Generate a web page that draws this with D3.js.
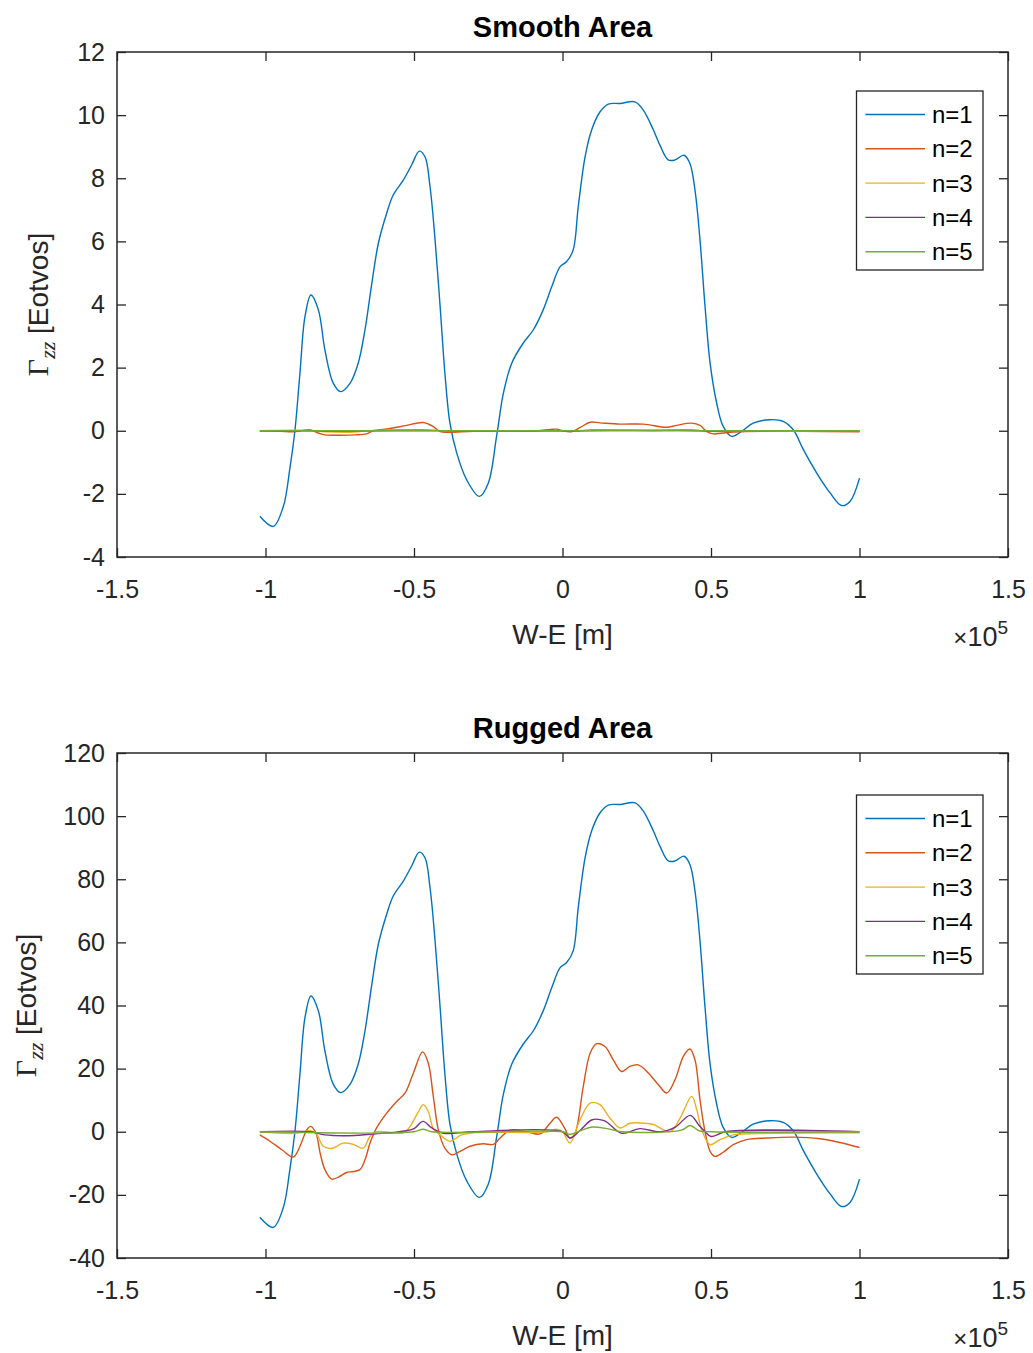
<!DOCTYPE html>
<html>
<head>
<meta charset="utf-8">
<script src="https://cdn.jsdelivr.net/npm/d3@7"></script>
<style>
  body { margin: 0; background: #fff; }
  text { font-family: "Liberation Sans", Arial, Helvetica, sans-serif; }
</style>
</head>
<body>
<div id="chart"></div>
<script>
// Gravity gradient Gzz along a W-E profile, smooth vs rugged terrain.
// x values are in units of 10^5 m (axis shows the x10^5 multiplier).

var colors = ["#0072BD", "#D95319", "#EDB120", "#7E2F8E", "#77AC30"];
var legendNames = ["n=1", "n=2", "n=3", "n=4", "n=5"];
var xTicks = [-1.5, -1, -0.5, 0, 0.5, 1, 1.5];
var smoothTicks = [-4, -2, 0, 2, 4, 6, 8, 10, 12];
var ruggedTicks = [-40, -20, 0, 20, 40, 60, 80, 100, 120];

// n=1 (same sampling in both panels)
var xN1 = [-1.019, -0.974, -0.94, -0.918, -0.901, -0.884, -0.867, -0.847, -0.822, -0.8,
           -0.772, -0.747, -0.715, -0.688, -0.665, -0.642, -0.62, -0.592, -0.57, -0.536,
           -0.508, -0.482, -0.463, -0.446, -0.429, -0.412, -0.396, -0.379, -0.356, -0.323,
           -0.28, -0.25, -0.222, -0.199, -0.171, -0.132, -0.098, -0.065, -0.036, -0.008,
           0.014, 0.036, 0.053, 0.076, 0.098, 0.126, 0.154, 0.194, 0.244, 0.272,
           0.306, 0.328, 0.356, 0.379, 0.409, 0.429, 0.446, 0.463, 0.48, 0.497,
           0.519, 0.541, 0.57, 0.603, 0.642, 0.699, 0.743, 0.777, 0.811, 0.856,
           0.901, 0.94, 0.968, 1.0];
var smoothN1 = [-2.71, -3.03, -2.4, -1.2, 0, 1.83, 3.62, 4.3, 3.83, 2.56,
                1.51, 1.24, 1.51, 2.14, 3.2, 4.67, 5.94, 6.89, 7.47, 7.94,
                8.42, 8.86, 8.68, 7.73, 6.04, 3.93, 1.83, 0.24, -0.71, -1.55,
                -2.08, -1.66, -0.18, 1.19, 2.14, 2.78, 3.2, 3.83, 4.57, 5.2,
                5.36, 5.73, 7.1, 8.68, 9.53, 10.1, 10.35, 10.37, 10.42, 10.16,
                9.53, 9.05, 8.58, 8.58, 8.73, 8.47, 7.63, 6.04, 3.93, 2.14,
                0.88, 0.14, -0.18, -0.02, 0.24, 0.35, 0.30, 0.03, -0.6, -1.34,
                -1.97, -2.37, -2.24, -1.5];
var ruggedN1 = [-27.1, -30.3, -24, -12, 0, 18.3, 36.2, 43, 38.3, 25.6,
                15.1, 12.4, 15.1, 21.4, 32, 46.7, 59.4, 68.9, 74.7, 79.4,
                84.2, 88.6, 86.8, 77.3, 60.4, 39.3, 18.3, 2.4, -7.1, -15.5,
                -20.8, -16.6, -1.8, 11.9, 21.4, 27.8, 32, 38.3, 45.7, 52,
                53.6, 57.3, 71, 86.8, 95.3, 101, 103.5, 103.7, 104.2, 101.6,
                95.3, 90.5, 85.8, 85.8, 87.3, 84.7, 76.3, 60.4, 39.3, 21.4,
                8.8, 1.4, -1.8, -0.2, 2.4, 3.5, 3.0, 0.3, -6, -13.4,
                -19.7, -23.7, -22.4, -15];

// smooth area, higher orders
var xS2 = [-1.019, -0.95, -0.9, -0.87, -0.85, -0.82, -0.8, -0.7, -0.66, -0.637,
           -0.581, -0.525, -0.469, -0.435, -0.412, -0.379, -0.3, -0.1, -0.04, -0.02,
           0.0, 0.03, 0.059, 0.093, 0.126, 0.194, 0.272, 0.351, 0.384, 0.435,
           0.463, 0.486, 0.508, 0.54, 0.6, 0.8, 1.0];
var smoothN2 = [0, -0.02, -0.03, 0.02, 0.03, -0.08, -0.13, -0.13, -0.1, 0,
                0.07, 0.17, 0.26, 0.13, -0.03, -0.05, -0.02, -0.01, 0.04, 0.05,
                0, -0.03, 0.1, 0.27, 0.25, 0.21, 0.21, 0.11, 0.17, 0.24,
                0.17, -0.03, -0.1, -0.07, -0.03, -0.02, -0.03];
var xS345 = [-1.019, -0.85, -0.8, -0.7, -0.65, -0.47, -0.4, -0.35, 0, 0.03,
             0.1, 0.3, 0.43, 0.5, 0.55, 1.0];
var smoothN3 = [0, 0.01, -0.03, -0.04, 0, 0.03, 0, -0.02, 0, -0.02,
                0.03, 0.02, 0.03, -0.02, -0.02, -0.01];
var smoothN4 = [0, 0, -0.01, -0.01, 0, 0.01, 0, -0.01, 0, -0.01,
                0.01, 0.01, 0.01, -0.01, 0, 0];
var smoothN5 = [0, 0, 0, 0, 0, 0, 0, 0, 0, 0,
                0, 0, 0, 0, 0, 0];

// rugged area, higher orders
var xR2 = [-1.019, -0.985, -0.945, -0.906, -0.884, -0.861, -0.848, -0.83, -0.816, -0.8,
           -0.777, -0.749, -0.727, -0.704, -0.682, -0.665, -0.648, -0.626, -0.592, -0.558,
           -0.53, -0.502, -0.471, -0.452, -0.435, -0.418, -0.396, -0.373, -0.345, -0.311,
           -0.267, -0.233, -0.21, -0.177, -0.12, -0.076, -0.042, -0.02, 0.008, 0.025,
           0.042, 0.07, 0.093, 0.115, 0.143, 0.171, 0.199, 0.227, 0.255, 0.289,
           0.323, 0.351, 0.379, 0.407, 0.429, 0.446, 0.463, 0.48, 0.497, 0.513,
           0.541, 0.575, 0.62, 0.688, 0.777, 0.867, 0.934, 1.0];
var ruggedN2 = [-1, -3, -5.7, -8, -4.6, 0.6, 1.7, -0.5, -6.8, -12,
                -15, -14.1, -12.9, -12.6, -12, -8.9, -3.6, 1.2, 5.9, 9.6,
                12.3, 18.6, 25.3, 21.8, 11.2, 0.6, -5.2, -7.3, -6.2, -4.6,
                -3.8, -4, -2, 0.5, 0, -0.7, 2.7, 4.6, 1, -2,
                -0.5, 14.4, 24.9, 27.9, 27, 22.8, 19.1, 20.7, 21.2, 18.6,
                14.9, 12.3, 16.5, 23.9, 26.2, 22.8, 10.1, 0, -6.2, -7.8,
                -6.5, -4.1, -2.5, -2, -1.7, -2.2, -3.4, -5];
var xR3 = [-1.019, -0.9, -0.85, -0.83, -0.805, -0.777, -0.738, -0.704, -0.671, -0.648,
           -0.626, -0.535, -0.513, -0.485, -0.469, -0.452, -0.435, -0.412, -0.38, -0.34,
           -0.3, -0.05, -0.02, 0.0, 0.025, 0.059, 0.093, 0.126, 0.16, 0.194,
           0.227, 0.272, 0.306, 0.362, 0.396, 0.435, 0.452, 0.469, 0.497, 0.53,
           0.575, 0.7, 1.0];
var ruggedN3 = [0, -0.5, 0.3, -0.5, -4.6, -5.3, -3.6, -4, -5.2, -1.4,
                0, -0.3, 1.7, 6.4, 8.6, 6.4, 1, -1, -3, -1,
                -0.3, 0, 0.8, 0, -3.6, 3.8, 9.1, 8.6, 4.3, 1.2,
                2.7, 2.7, 2.3, 0, 4.3, 11.2, 7, 0.5, -4.1, -2.5,
                -1, -0.5, -0.3];
var xR4 = [-1.019, -0.85, -0.8, -0.7, -0.65, -0.55, -0.5, -0.47, -0.44, -0.4,
           -0.3, 0, 0.025, 0.06, 0.1, 0.14, 0.2, 0.26, 0.33, 0.38,
           0.43, 0.46, 0.48, 0.5, 0.55, 1.0];
var ruggedN4 = [0, 0, -1, -1.2, -0.8, 0, 1, 3.3, 1.2, -0.5,
                0, 0, -2, 0.5, 3.8, 3.5, -0.5, 1, 0, 1.5,
                5.2, 2, 0, -1.5, 0, 0];
var xR5 = [-1.019, -0.5, -0.47, -0.44, 0, 0.025, 0.06, 0.1, 0.15, 0.2,
           0.4, 0.43, 0.46, 0.5, 1.0];
var ruggedN5 = [0, 0, 0.8, 0, 0, -0.8, 0.3, 1.5, 1.0, 0,
                0.5, 2.0, 0.3, 0, 0];

var svg = d3.select("#chart").append("svg").attr("width", 1033).attr("height", 1353);
var plotLeft = 117, plotRight = 1008;
var axisColor = "#262626";

var x = d3.scaleLinear().domain([-1.5, 1.5]).range([plotLeft, plotRight]);

var drawPanel = function(p) {
  var y = d3.scaleLinear().domain(d3.extent(p.ticks)).range([p.bottom, p.top]);
  var g = svg.append("g");

  var line = d3.line()
      .x(function(d) { return x(d[0]); })
      .y(function(d) { return y(d[1]); })
      .curve(d3.curveCatmullRom.alpha(0.5));

  p.series.forEach(function(s, i) {
    g.append("path")
     .datum(d3.zip(s[0], s[1]))
     .attr("fill", "none")
     .attr("stroke", colors[i])
     .attr("stroke-width", 1.4)
     .attr("stroke-linejoin", "round")
     .attr("d", line);
  });

  // ticks on all four sides, pointing inward
  var axes = [
    { gen: d3.axisBottom(x).tickValues(xTicks).tickPadding(23).tickFormat(String), t: "translate(0," + p.bottom + ")" },
    { gen: d3.axisTop(x).tickValues(xTicks).tickFormat(function() { return ""; }), t: "translate(0," + p.top + ")" },
    { gen: d3.axisLeft(y).tickValues(p.ticks).tickPadding(12).tickFormat(String), t: "translate(" + plotLeft + ",0)" },
    { gen: d3.axisRight(y).tickValues(p.ticks).tickFormat(function() { return ""; }), t: "translate(" + plotRight + ",0)" }
  ];
  axes.forEach(function(a) {
    var ax = g.append("g")
      .attr("transform", a.t)
      .call(a.gen.tickSizeInner(-9).tickSizeOuter(0))
      .attr("font-size", 25)
      .attr("font-family", "Liberation Sans, Arial, sans-serif");
    ax.select(".domain").remove();
    ax.selectAll(".tick line").attr("stroke", axisColor).attr("stroke-width", 1.3);
    ax.selectAll(".tick text").attr("fill", axisColor);
  });

  g.append("rect")
   .attr("x", plotLeft).attr("y", p.top)
   .attr("width", plotRight - plotLeft).attr("height", p.bottom - p.top)
   .attr("fill", "none").attr("stroke", axisColor).attr("stroke-width", 1.5);

  // title
  g.append("text")
   .attr("x", (plotLeft + plotRight) / 2).attr("y", p.top - 15)
   .attr("text-anchor", "middle")
   .attr("font-size", 29).attr("font-weight", "bold")
   .attr("fill", "#000")
   .text(p.title);

  // x label and exponent
  g.append("text")
   .attr("x", (plotLeft + plotRight) / 2).attr("y", p.bottom + 87)
   .attr("text-anchor", "middle")
   .attr("font-size", 28).attr("fill", axisColor)
   .text("W-E [m]");

  var ex = g.append("text")
   .attr("x", plotRight).attr("y", p.bottom + 89)
   .attr("text-anchor", "end")
   .attr("fill", axisColor);
  ex.append("tspan").attr("font-size", 24).text("\u00d7");
  ex.append("tspan").attr("font-size", 27).text("10");
  ex.append("tspan").attr("font-size", 19).attr("dy", -12).text("5");

  // y label
  var yl = g.append("text")
   .attr("transform", "translate(" + p.ylabelX + "," + (p.top + p.bottom) / 2 + ") rotate(-90)")
   .attr("text-anchor", "middle")
   .attr("fill", axisColor)
   .attr("font-size", 28);
  yl.append("tspan").attr("font-family", "Liberation Serif, Times New Roman, serif").attr("font-size", 30).text("\u0393");
  yl.append("tspan").attr("font-family", "Liberation Serif, Times New Roman, serif")
    .attr("font-style", "italic").attr("font-size", 22).attr("dy", 7).text("zz");
  yl.append("tspan").attr("dy", -7).text(" [Eotvos]");

  // legend
  var lg = g.append("g");
  lg.append("rect")
    .attr("x", 856.5).attr("y", p.legendTop)
    .attr("width", 126.5).attr("height", 179)
    .attr("fill", "#fff").attr("stroke", axisColor).attr("stroke-width", 1.3);
  legendNames.forEach(function(name, i) {
    var ly = p.legendTop + 23.5 + i * 34.3;
    lg.append("line")
      .attr("x1", 865.5).attr("x2", 925).attr("y1", ly).attr("y2", ly)
      .attr("stroke", colors[i]).attr("stroke-width", 1.4);
    lg.append("text")
      .attr("x", 932).attr("y", ly).attr("dy", "0.35em")
      .attr("font-size", 24).attr("fill", "#000")
      .text(name);
  });
};

drawPanel({
  title: "Smooth Area", top: 52, bottom: 557, ticks: smoothTicks,
  legendTop: 91, ylabelX: 48,
  series: [[xN1, smoothN1], [xS2, smoothN2], [xS345, smoothN3], [xS345, smoothN4], [xS345, smoothN5]]
});

drawPanel({
  title: "Rugged Area", top: 753, bottom: 1258, ticks: ruggedTicks,
  legendTop: 795, ylabelX: 36,
  series: [[xN1, ruggedN1], [xR2, ruggedN2], [xR3, ruggedN3], [xR4, ruggedN4], [xR5, ruggedN5]]
});
</script>
</body>
</html>
